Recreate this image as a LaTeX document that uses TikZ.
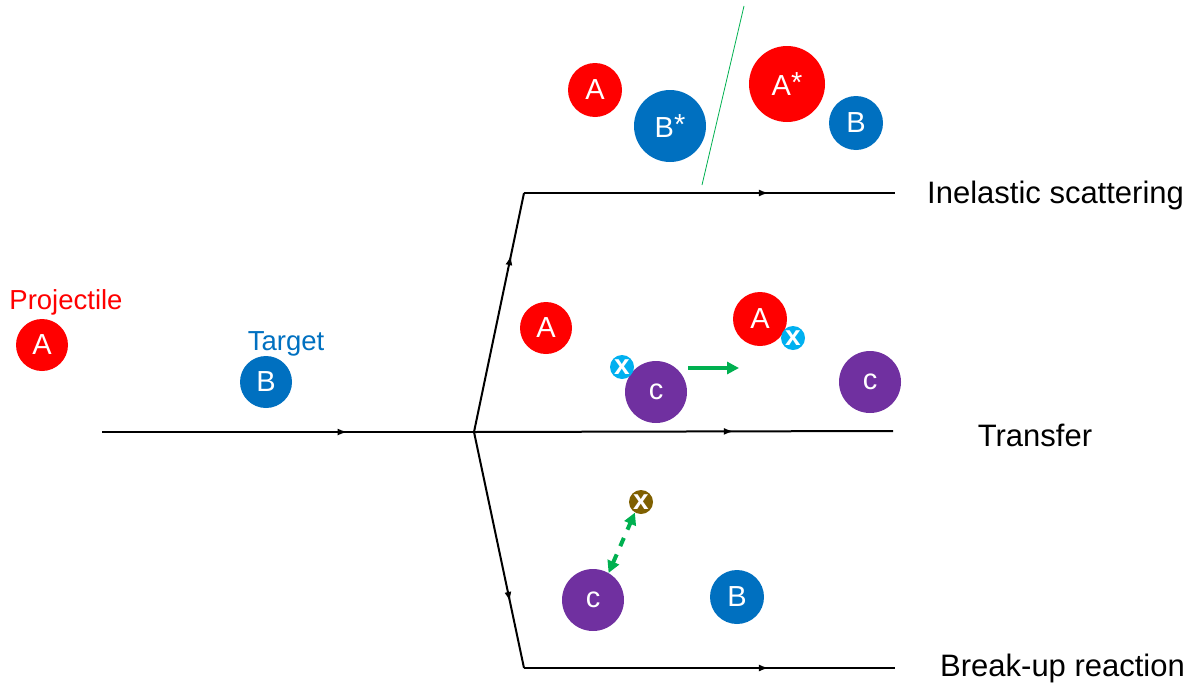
\documentclass[tikz,border=0pt]{standalone}
\usepackage{fontspec}
\setmainfont{Liberation Sans}
\usetikzlibrary{arrows.meta,decorations.markings}
\definecolor{pred}{HTML}{FF0000}
\definecolor{pblue}{HTML}{0070C0}
\definecolor{ppurple}{HTML}{7030A0}
\definecolor{pcyan}{HTML}{00B0F0}
\definecolor{pbrown}{HTML}{7F6000}
\definecolor{pgreen}{HTML}{00B050}
\newcommand{\excited}{\raisebox{0.12em}{*}}
\tikzset{
  ball/.style={circle,inner sep=0pt,text=white,font=\fontsize{29}{32}\selectfont,minimum size=#1},
  redball/.style={ball=#1,fill=pred},
  blueball/.style={ball=#1,fill=pblue},
  purpleball/.style={ball=#1,fill=ppurple},
  smallball/.style={ball=24pt,font=\fontsize{28}{28}\selectfont\bfseries},
  track/.style={line width=2pt,black},
  midarrow/.style={postaction={decorate,decoration={markings,
      mark=at position #1 with {\arrow{Latex[length=10pt,width=7pt]}}}}},
  caption/.style={font=\fontsize{31}{35}\selectfont,inner sep=0pt},
  tag/.style={font=\fontsize{27.5}{31}\selectfont,inner sep=0pt},
  push/.style={pgreen,line width=4pt,-{Triangle[length=12pt,width=12pt]}},
}
\begin{document}
\begin{tikzpicture}[x=1pt,y=-1pt]
\useasboundingbox (0,0) rectangle (1193,688);

% reaction paths
\coordinate (start) at (102,432);
\coordinate (vertex) at (474,432);
\coordinate (upbend) at (524,193);
\coordinate (upend) at (895,193);
\coordinate (midend) at (893,431);
\coordinate (lowbend) at (524,668);
\coordinate (lowend) at (895,668);

\draw[track,midarrow=0.66] (start) -- (vertex);
\draw[track,midarrow=0.74] (vertex) -- (upbend);
\draw[track,line width=2.8pt,midarrow=0.66] (upbend) -- (upend);
\draw[track,midarrow=0.62] (vertex) -- (midend);
\draw[track,midarrow=0.72] (vertex) -- (lowbend);
\draw[track,line width=2.4pt,midarrow=0.66] (lowbend) -- (lowend);

% incoming particles
\node[redball=52pt] (projA) at (42,345) {A};
\node[tag,text=pred] (projlabel) at (66,302) {Projectile};
\node[blueball=52pt] (targB) at (266,382) {B};
\node[tag,text=pblue] (targlabel) at (286,344) {Target};

% inelastic scattering
\node[redball=54pt] (inA) at (595,90) {A};
\node[blueball=72pt] (inBs) at (670,126) {B\excited};
\coordinate (divtop) at (744,6);
\coordinate (divbot) at (702,185);
\draw[pgreen,line width=0.8pt] (divtop) -- (divbot);
\node[redball=76pt] (inAs) at (787,84) {A\excited};
\node[blueball=54pt] (inB) at (856,123) {B};

% transfer
\node[redball=52pt] (trA) at (546,328) {A};
\node[purpleball=62pt] (trc) at (656,392) {c};
\node[smallball,fill=pcyan] (trx) at (622,367) {x};
\node[redball=54pt] (trA2) at (760,319) {A};
\node[smallball,fill=pcyan] (trx2) at (793,338) {x};
\node[purpleball=62pt] (trc2) at (870,382) {c};
\coordinate (pushfrom) at (688,368);
\coordinate (pushto) at (739,368);
\draw[push] (pushfrom) -- (pushto);

% break-up
\node[smallball,fill=pbrown] (bux) at (641,502) {x};
\node[purpleball=62pt] (buc) at (593,600) {c};
\node[blueball=54pt] (buB) at (737,597) {B};
\draw[pgreen,line width=4pt,dash pattern=on 9pt off 9pt,
  {Triangle[length=12pt,width=12pt]}-{Triangle[length=12pt,width=12pt]}]
  (buc.60) -- (bux.240);

% channel names
\node[caption,anchor=west] (lbl1) at (927,195) {Inelastic scattering};
\node[caption] (lbl2) at (1035,435) {Transfer};
\node[caption,anchor=west] (lbl3) at (940,668) {Break-up reaction};
\end{tikzpicture}
\end{document}
